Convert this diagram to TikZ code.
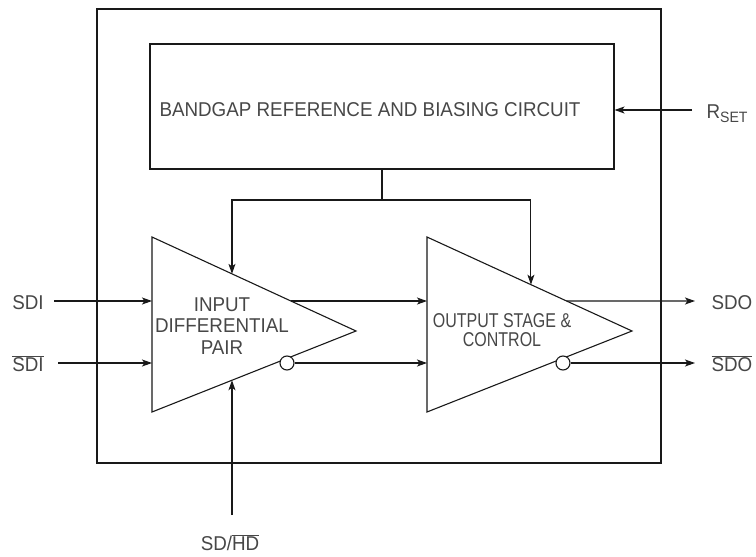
\documentclass[tikz,border=0pt]{standalone}
\usepackage{fontspec}
\setmainfont[FakeStretch=0.94]{Liberation Sans}
\newfontfamily\narrowfont[FakeStretch=0.8]{Liberation Sans}
\usetikzlibrary{arrows.meta, positioning, calc}
\tikzset{>={Stealth[length=10pt,width=7pt,inset=2.5pt]}}
\tikzset{
  sig/.style={inner sep=0pt, text height=16.5pt, text depth=0pt},
  bubble/.style={draw, circle, fill=white, minimum size=14pt, inner sep=0pt},
  block/.style={draw, inner sep=0pt}
}
\newcommand{\negsig}[1]{$\overline{\mbox{#1}}$}
\newcommand{\subsig}[1]{{\fontsize{15}{15}\selectfont\raisebox{-4pt}{#1}}}

\begin{document}
\begin{tikzpicture}[x=1pt, y=-1pt, line width=1.1pt, draw=black!90,
    font=\fontsize{20}{21.5}\selectfont, every node/.append style={text=black!72}]
		\useasboundingbox (0,0) rectangle (756,557);
		% chip outline
		\draw (97,9) rectangle (661,463);
		% bias block
		\node[block, minimum width=464pt, minimum height=125pt] (bias) at (382,106.5) {};
		\node (biastxt) at (370,110) {BANDGAP REFERENCE AND BIASING CIRCUIT};
		% input amplifier
		\draw (152,237) coordinate (t1nw) -- (356,331) coordinate (t1o)
		  -- (152,412) coordinate (t1sw) -- cycle;
		\node[align=center] (t1lbl) at (222,326) {INPUT\\DIFFERENTIAL\\PAIR};
		% output stage
		\draw (427,237) coordinate (t2nw) -- (632,331) coordinate (t2o)
		  -- (427,412) coordinate (t2sw) -- cycle;
		\node[align=center, font=\narrowfont\fontsize{20}{18.5}\selectfont] (t2lbl) at (502,330) {OUTPUT STAGE \&\\CONTROL};
		\node[bubble] (b1) at (287,363) {};
		\node[bubble] (b2) at (563,363) {};
		\coordinate (t1q) at ($(t1nw)!0.681!(t1o)$);
		\coordinate (t2q) at ($(t2nw)!0.681!(t2o)$);
		\coordinate (t1top) at ($(t1nw)!0.392!(t1o)$);
		\coordinate (t2top) at ($(t2nw)!0.507!(t2o)$);
		\coordinate (t1bot) at ($(t1sw)!0.392!(t1o)$);
		\coordinate (jct) at (382,200);
		% pins
		\node[sig] (sdi) at (28,301) {SDI};
		\node[sig] (sdin) at (28,363) {\negsig{SDI}};
		\node[sig, anchor=west] (sdo) at (711,301) {SDO};
		\node[sig, anchor=west] (sdon) at (711,363) {\negsig{SDO}};
		\node[sig, anchor=west] (rset) at (706,110) {R\subsig{SET}};
		\node[sig] (sdhd) at (230,542) {SD/\negsig{HD}};
		% connections
		\draw[->] ([xshift=10pt]sdi.east) -- (sdi -| t1nw);
		\draw[->] ([xshift=14pt]sdin.east) -- (sdin -| t1nw);
		\draw[->] (t1q) -- (t1q -| t2nw);
		\draw[->] (b1) -- (b1 -| t2nw);
		\draw[->] (t2q) -- ([xshift=-16pt]sdo.west);
		\draw[->] (b2) -- ([xshift=-16pt]sdon.west);
		\draw[->] ([xshift=-14pt]rset.west) -- (rset -| bias.east);
		\draw (bias.south) -- (jct);
		\draw[->] (jct) -| (t1top);
		\draw[->] (jct) -| (t2top);
		\draw[->] ([yshift=18pt]t1bot |- sdhd.north) -- (t1bot);
\end{tikzpicture}
\end{document}
